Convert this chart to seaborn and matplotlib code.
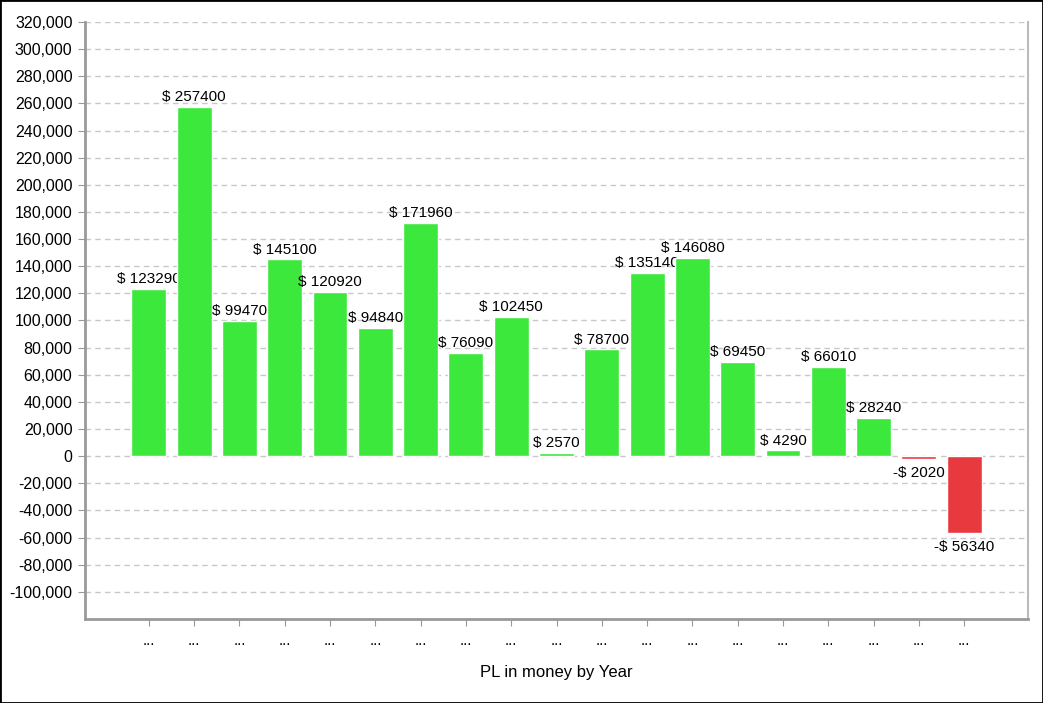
import matplotlib
matplotlib.use('Agg')
import matplotlib.pyplot as plt
import seaborn as sns
import pandas as pd
from matplotlib.ticker import FuncFormatter

# values
years = [f"Y{i}" for i in range(1, 20)]
pl_values = [123290, 257400, 99470, 145100, 120920, 94840, 171960, 76090,
             102450, 2570, 78700, 135140, 146080, 69450, 4290, 66010, 28240,
             -2020, -56340]
tick_labels = ["..."] * len(years)

df = pd.DataFrame({"year": years, "pl": pl_values})
green = "#3de83d"
red = "#e8393f"
colors = [green if v >= 0 else red for v in pl_values]

sns.set_style("white")
plt.rcParams['font.family'] = ['Liberation Sans', 'DejaVu Sans']
plt.rcParams['text.color'] = 'black'
plt.rcParams['xtick.color'] = 'black'
plt.rcParams['ytick.color'] = 'black'
plt.rcParams['axes.labelcolor'] = 'black'

fig = plt.figure(figsize=(10.43, 7.03), dpi=100)
ax = fig.add_axes([85 / 1043, 1 - 619 / 703, (1028 - 85) / 1043, (619 - 22) / 703])

sns.barplot(data=df, x="year", y="pl", hue="year", palette=colors,
            legend=False, width=0.77, saturation=1, ax=ax)

# draw order: bar, its label, next bar covers it
for i, (patch, v) in enumerate(zip(ax.patches, pl_values)):
    patch.set_zorder(2 + 2 * i)
    x = patch.get_x() + patch.get_width() / 2
    if v >= 0:
        ax.annotate(f"$ {v}", (x, v), xytext=(0, 2), textcoords="offset points",
                    ha="center", va="bottom", fontsize=11, zorder=3 + 2 * i)
    else:
        ax.annotate(f"-$ {abs(v)}", (x, v), xytext=(0, -5), textcoords="offset points",
                    ha="center", va="top", fontsize=11, zorder=3 + 2 * i)

ax.set_ylim(-120000, 320000)
ax.set_xlim(-1.41, len(years) - 1 + 1.41)
ax.set_yticks(range(-100000, 320001, 20000))
ax.yaxis.set_major_formatter(FuncFormatter(lambda v, p: f"{int(v):,}"))
ax.set_xticks(range(len(years)))
ax.set_xticklabels(tick_labels)

ax.yaxis.grid(True, linestyle=(0, (4, 3)), color="#c8c8c8", linewidth=1)
ax.set_axisbelow(True)
ax.tick_params(axis="y", left=True, length=5, color="#999999", labelsize=11.5, pad=4)
ax.tick_params(axis="x", bottom=True, length=5, color="#999999", labelsize=11, pad=6)

for side in ["left", "bottom"]:
    ax.spines[side].set_color("#999999")
    ax.spines[side].set_linewidth(2)
ax.spines["right"].set_color("#bbbbbb")
ax.spines["right"].set_linewidth(1.5)
ax.spines["top"].set_visible(False)

ax.set_ylabel("")
ax.set_xlabel("PL in money by Year", fontsize=12, labelpad=12)

# black border around the figure
fig.patches.append(plt.Rectangle((0, 0), 1, 1, transform=fig.transFigure,
                                 fill=False, edgecolor="black", linewidth=2))

fig.savefig("out.png", dpi=100)
